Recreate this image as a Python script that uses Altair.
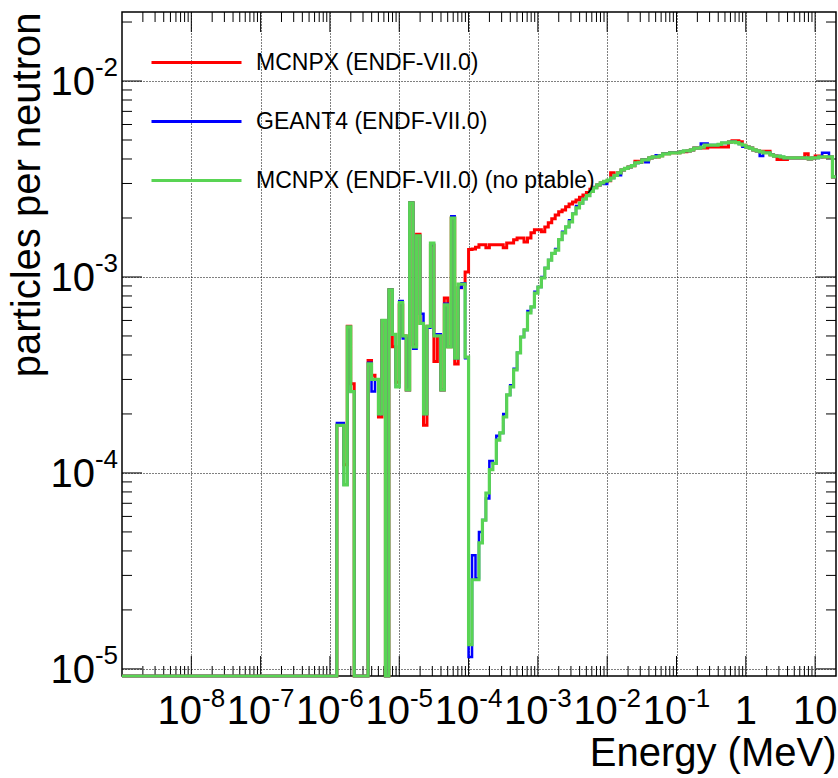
import numpy as np
import pandas as pd
import altair as alt

# Axis ranges (MeV on x, particles per neutron on y)
E_LOW, E_HIGH = 1e-9, 20.0
Y_LOW, Y_HIGH = 9.2e-6, 2.25e-2

# Histogram binning: 20 logarithmic bins per decade; the tabulated bins start
# at 1e-6 MeV, every bin below that is empty.
FIRST_EDGE = 1e-6
BINS_PER_DECADE = 20

PLOT_W, PLOT_H = 714, 664
FONT = "Liberation Sans"
BASE_SIZE, EXP_SIZE = 40, 26          # "10" and its exponent in tick labels
BASE_W = 2 * 0.556 * BASE_SIZE        # width of "10"
EXP_W = (0.333 + 0.556) * EXP_SIZE    # width of "-n"

series_names = [
    "MCNPX (ENDF-VII.0)",
    "GEANT4 (ENDF-VII.0)",
    "MCNPX (ENDF-VII.0) (no ptable)",
]
series_colors = ["#ff0000", "#0000ff", "#59d454"]

mcnpx = [
    0, 0, 1.75e-4, 1.75e-4, 1.1e-4, 5.6e-4, 2.85e-4, 0, 0, 0,
    0, 3.75e-4, 3.15e-4, 3.0e-4, 1.93e-4, 6.0e-4, 0, 8.6e-4, 4.4e-4, 2.9e-4,
    7.2e-4, 5.0e-4, 2.65e-4, 2.39e-3, 4.5e-4, 1.65e-3, 5.8e-4, 1.75e-4, 5.6e-4, 1.45e-3,
    3.7e-4, 5.0e-4, 2.65e-4, 7.8e-4, 4.4e-4, 2.0e-3, 3.6e-4, 8.8e-4, 9.2e-4, 1.06e-3,
    1.38e-3, 1.39e-3, 1.42e-3, 1.46e-3, 1.46e-3, 1.41e-3, 1.46e-3, 1.46e-3, 1.46e-3, 1.46e-3,
    1.41e-3, 1.49e-3, 1.49e-3, 1.55e-3, 1.58e-3, 1.58e-3, 1.51e-3, 1.58e-3, 1.68e-3, 1.74e-3,
    1.74e-3, 1.70e-3, 1.80e-3, 1.89e-3, 1.98e-3, 2.07e-3, 2.15e-3, 2.20e-3, 2.28e-3, 2.36e-3,
    2.41e-3, 2.47e-3, 2.55e-3, 2.62e-3, 2.7e-3, 2.8e-3, 2.87e-3, 2.95e-3, 3.02e-3, 3.06e-3,
    3.1e-3, 3.4e-3, 3.3e-3, 3.4e-3, 3.52e-3, 3.58e-3, 3.64e-3, 3.7e-3, 3.9e-3, 3.85e-3,
    3.96e-3, 3.96e-3, 4.05e-3, 4.1e-3, 4.1e-3, 4.15e-3, 4.25e-3, 4.25e-3, 4.3e-3, 4.3e-3,
    4.3e-3, 4.35e-3, 4.35e-3, 4.4e-3, 4.45e-3, 4.55e-3, 4.55e-3, 4.55e-3, 4.55e-3, 4.6e-3,
    4.6e-3, 4.6e-3, 4.6e-3, 4.6e-3, 4.6e-3, 4.88e-3, 4.95e-3, 4.95e-3, 4.9e-3, 4.7e-3,
    4.6e-3, 4.55e-3, 4.45e-3, 4.4e-3, 4.35e-3, 4.38e-3, 4.38e-3, 4.2e-3, 4.14e-3, 3.98e-3,
    3.98e-3, 3.98e-3, 4.05e-3, 4.05e-3, 4.05e-3, 4.05e-3, 4.05e-3, 4.25e-3, 4.0e-3, 4.05e-3,
    4.14e-3, 4.14e-3, 4.1e-3, 4.1e-3, 4.1e-3, 3.24e-3,
]

geant4 = [
    0, 0, 1.8e-4, 1.8e-4, 8.7e-5, 5.56e-4, 2.6e-4, 0, 0, 0,
    0, 3.65e-4, 2.6e-4, 3.0e-4, 2.0e-4, 6.0e-4, 0, 8.6e-4, 5.1e-4, 2.75e-4,
    7.55e-4, 4.85e-4, 2.65e-4, 2.39e-3, 4.3e-4, 1.62e-3, 6.5e-4, 2.0e-4, 5.5e-4, 1.47e-3,
    5.1e-4, 5.1e-4, 2.65e-4, 7.3e-4, 4.4e-4, 2.04e-3, 3.85e-4, 8.8e-4, 9.3e-4, 3.85e-4,
    1.15e-5, 3.8e-5, 2.9e-5, 5.0e-5, 5.75e-5, 7.4e-5, 1.15e-4, 1.12e-4, 1.55e-4, 1.6e-4,
    2.0e-4, 2.5e-4, 2.8e-4, 3.4e-4, 4.1e-4, 4.94e-4, 5.37e-4, 6.7e-4, 7.03e-4, 8.4e-4,
    8.89e-4, 1.0e-3, 1.11e-3, 1.22e-3, 1.32e-3, 1.39e-3, 1.55e-3, 1.7e-3, 1.80e-3, 1.95e-3,
    2.1e-3, 2.3e-3, 2.38e-3, 2.5e-3, 2.6e-3, 2.73e-3, 2.85e-3, 2.95e-3, 3.02e-3, 2.98e-3,
    3.12e-3, 3.2e-3, 3.3e-3, 3.3e-3, 3.52e-3, 3.58e-3, 3.64e-3, 3.7e-3, 3.82e-3, 3.85e-3,
    3.96e-3, 3.85e-3, 4.05e-3, 4.1e-3, 4.18e-3, 4.15e-3, 4.25e-3, 4.25e-3, 4.3e-3, 4.3e-3,
    4.3e-3, 4.35e-3, 4.4e-3, 4.4e-3, 4.45e-3, 4.55e-3, 4.55e-3, 4.8e-3, 4.8e-3, 4.71e-3,
    4.71e-3, 4.71e-3, 4.75e-3, 4.83e-3, 4.83e-3, 4.88e-3, 4.9e-3, 4.85e-3, 4.77e-3, 4.62e-3,
    4.6e-3, 4.55e-3, 4.45e-3, 4.4e-3, 4.14e-3, 4.3e-3, 4.3e-3, 4.2e-3, 4.14e-3, 4.14e-3,
    4.1e-3, 4.05e-3, 4.05e-3, 4.05e-3, 4.05e-3, 4.05e-3, 4.05e-3, 4.05e-3, 4.0e-3, 4.05e-3,
    4.05e-3, 4.1e-3, 4.3e-3, 4.3e-3, 4.1e-3, 3.24e-3,
]

mcnpx_no_ptable = [
    0, 0, 1.75e-4, 1.75e-4, 8.7e-5, 5.56e-4, 2.6e-4, 0, 0, 0,
    0, 3.6e-4, 3.0e-4, 3.0e-4, 2.0e-4, 6.0e-4, 0, 8.6e-4, 5.1e-4, 2.75e-4,
    7.4e-4, 5.0e-4, 2.65e-4, 2.39e-3, 4.4e-4, 1.62e-3, 5.8e-4, 2.0e-4, 5.6e-4, 1.49e-3,
    5.0e-4, 5.0e-4, 2.65e-4, 7.2e-4, 4.4e-4, 2.0e-3, 3.85e-4, 9.2e-4, 9.2e-4, 3.9e-4,
    1.33e-5, 2.85e-5, 2.85e-5, 4.4e-5, 5.75e-5, 7.9e-5, 1.04e-4, 1.12e-4, 1.47e-4, 1.6e-4,
    1.93e-4, 2.5e-4, 2.75e-4, 3.36e-4, 4.1e-4, 4.94e-4, 5.37e-4, 6.55e-4, 7.03e-4, 8.28e-4,
    8.89e-4, 9.9e-4, 1.11e-3, 1.22e-3, 1.32e-3, 1.37e-3, 1.55e-3, 1.68e-3, 1.80e-3, 1.91e-3,
    2.1e-3, 2.25e-3, 2.38e-3, 2.5e-3, 2.6e-3, 2.73e-3, 2.85e-3, 2.95e-3, 3.02e-3, 3.08e-3,
    3.12e-3, 3.2e-3, 3.3e-3, 3.4e-3, 3.52e-3, 3.58e-3, 3.64e-3, 3.7e-3, 3.82e-3, 3.85e-3,
    3.96e-3, 3.96e-3, 4.05e-3, 4.1e-3, 4.1e-3, 4.15e-3, 4.25e-3, 4.25e-3, 4.3e-3, 4.3e-3,
    4.3e-3, 4.35e-3, 4.4e-3, 4.4e-3, 4.45e-3, 4.55e-3, 4.55e-3, 4.6e-3, 4.71e-3, 4.71e-3,
    4.71e-3, 4.71e-3, 4.75e-3, 4.83e-3, 4.83e-3, 4.88e-3, 4.9e-3, 4.85e-3, 4.77e-3, 4.7e-3,
    4.6e-3, 4.55e-3, 4.45e-3, 4.4e-3, 4.35e-3, 4.3e-3, 4.3e-3, 4.2e-3, 4.14e-3, 4.14e-3,
    4.1e-3, 4.05e-3, 4.05e-3, 4.05e-3, 4.05e-3, 4.05e-3, 4.05e-3, 4.05e-3, 4.0e-3, 4.05e-3,
    4.05e-3, 4.1e-3, 4.1e-3, 4.1e-3, 4.1e-3, 3.24e-3,
]

# Tick-label text: decades written as 10 with a raised exponent
x_power_decades = [1e-8, 1e-7, 1e-6, 1e-5, 1e-4, 1e-3, 1e-2, 1e-1]
x_power_exponents = ["-8", "-7", "-6", "-5", "-4", "-3", "-2", "-1"]
x_plain_decades = [1.0, 10.0]
x_plain_text = ["1", "10"]
y_power_decades = [1e-5, 1e-4, 1e-3, 1e-2]
y_power_exponents = ["-5", "-4", "-3", "-2"]


def histogram_steps(values, name):
    """Lower bin edges plus the closing edge, ready for a step-after line."""
    edges = FIRST_EDGE * 10.0 ** (np.arange(len(values) + 1) / BINS_PER_DECADE)
    energy = np.concatenate([[E_LOW], edges])
    content = np.concatenate([[0.0], np.asarray(values, float), [values[-1]]])
    return pd.DataFrame({"energy": energy, "content": content, "series": name})


hist = pd.concat(
    [
        histogram_steps(mcnpx, series_names[0]),
        histogram_steps(geant4, series_names[1]),
        histogram_steps(mcnpx_no_ptable, series_names[2]),
    ],
    ignore_index=True,
)

# ---- tick positions (decades and 2..9 subdivisions) ----
x_major = [10.0 ** e for e in range(-8, 2)]
x_minor = [m * 10.0 ** e for e in range(-9, 2) for m in range(2, 10) if m * 10.0 ** e < E_HIGH]
y_major = [10.0 ** e for e in range(-5, -1)]
y_minor = [m * 10.0 ** e for e in range(-6, -1) for m in range(2, 10)
           if Y_LOW < m * 10.0 ** e < Y_HIGH]

x_scale = alt.Scale(type="log", domain=[E_LOW, E_HIGH], nice=False)
y_scale = alt.Scale(type="log", domain=[Y_LOW, Y_HIGH], nice=False)

axis_common = dict(
    grid=True, gridDash=[1, 2], gridColor="#000000", gridWidth=1, gridOpacity=1,
    ticks=False, domain=False, labels=False, titleFont=FONT, titleFontSize=40,
    titleFontWeight="normal", titleColor="black",
)
x_axis = alt.Axis(values=x_major, title="Energy (MeV)", titleAnchor="end",
                  titlePadding=57, **axis_common)
y_axis = alt.Axis(values=y_major, title="particles per neutron", titleAnchor="end",
                  titlePadding=75, **axis_common)

color_scale = alt.Scale(domain=series_names, range=series_colors)
legend = alt.Legend(
    title=None, orient="none", legendX=28, legendY=4, symbolType="stroke",
    symbolSize=8100, symbolStrokeWidth=3, labelFont=FONT, labelFontSize=23,
    labelColor="black", labelOffset=13, rowPadding=-37, padding=0, labelLimit=0,
)


def tick_layer(values, length, side):
    data = alt.Data(values=[{"t": v} for v in values])
    rule = alt.Chart(data).mark_rule(color="black", strokeWidth=1)
    if side in ("bottom", "top"):
        enc_x = alt.X("t:Q", scale=x_scale, axis=x_axis)
        if side == "bottom":
            return rule.encode(x=enc_x, y=alt.value(PLOT_H), y2=alt.value(PLOT_H - length))
        return rule.encode(x=enc_x, y=alt.value(0), y2=alt.value(length))
    enc_y = alt.Y("t:Q", scale=y_scale, axis=y_axis)
    if side == "left":
        return rule.encode(y=enc_y, x=alt.value(0), x2=alt.value(length))
    return rule.encode(y=enc_y, x=alt.value(PLOT_W), x2=alt.value(PLOT_W - length))


ticks = [
    tick_layer(x_major, 20, "bottom"), tick_layer(x_minor, 10, "bottom"),
    tick_layer(x_major, 20, "top"), tick_layer(x_minor, 10, "top"),
    tick_layer(y_major, 20, "left"), tick_layer(y_minor, 10, "left"),
    tick_layer(y_major, 20, "right"), tick_layer(y_minor, 10, "right"),
]


# ---- tick labels ----
def text_chart(rows, size, **mark):
    return alt.Chart(alt.Data(values=rows)).mark_text(
        font=FONT, fontSize=size, color="black", **mark)


x_pow_rows = [{"v": v, "e": e} for v, e in zip(x_power_decades, x_power_exponents)]
x_plain_rows = [{"v": v, "s": s} for v, s in zip(x_plain_decades, x_plain_text)]
y_pow_rows = [{"v": v, "e": e} for v, e in zip(y_power_decades, y_power_exponents)]
shift = (BASE_W - EXP_W) / 2  # centres "10" + exponent on the tick

X_BASELINE, X_EXP_BASELINE = PLOT_H + 48, PLOT_H + 31
label_layers = [
    text_chart(x_pow_rows, BASE_SIZE, align="right", baseline="alphabetic", dx=shift)
    .encode(x=alt.X("v:Q", scale=x_scale, axis=x_axis), y=alt.value(X_BASELINE),
            text=alt.value("10")),
    text_chart(x_pow_rows, EXP_SIZE, align="left", baseline="alphabetic", dx=shift)
    .encode(x=alt.X("v:Q", scale=x_scale, axis=x_axis), y=alt.value(X_EXP_BASELINE),
            text="e:N"),
    text_chart(x_plain_rows, BASE_SIZE, align="center", baseline="alphabetic")
    .encode(x=alt.X("v:Q", scale=x_scale, axis=x_axis), y=alt.value(X_BASELINE),
            text="s:N"),
    text_chart(y_pow_rows, BASE_SIZE, align="right", baseline="alphabetic",
               dx=-4 - EXP_W, dy=0.36 * BASE_SIZE)
    .encode(y=alt.Y("v:Q", scale=y_scale, axis=y_axis), x=alt.value(0),
            text=alt.value("10")),
    text_chart(y_pow_rows, EXP_SIZE, align="right", baseline="alphabetic",
               dx=-4, dy=-0.12 * BASE_SIZE)
    .encode(y=alt.Y("v:Q", scale=y_scale, axis=y_axis), x=alt.value(0),
            text="e:N"),
]


def series_layer(name, width):
    return (
        alt.Chart(hist)
        .transform_filter(alt.datum.series == name)
        # empty bins sit on the bottom edge of the log axis
        .transform_calculate(shown=f"max(datum.content, {Y_LOW})")
        .mark_line(interpolate="step-after", strokeWidth=width, strokeJoin="miter")
        .encode(
            x=alt.X("energy:Q", scale=x_scale, axis=x_axis),
            y=alt.Y("shown:Q", scale=y_scale, axis=y_axis),
            color=alt.Color("series:N", scale=color_scale, legend=legend),
        )
    )


lines = [
    series_layer(series_names[0], 3),
    series_layer(series_names[1], 2.5),
    series_layer(series_names[2], 3.2),
]

chart = (
    alt.layer(*ticks, *label_layers, *lines)
    .properties(
        width=PLOT_W, height=PLOT_H,
        padding={"left": 122, "top": 12, "right": 2, "bottom": 102},
        autosize=alt.AutoSizeParams(type="none"),
        background="white",
    )
    .configure_view(stroke="black", strokeWidth=1.5)
)

chart.save("out.html", embed_options={"renderer": "svg", "actions": False})
